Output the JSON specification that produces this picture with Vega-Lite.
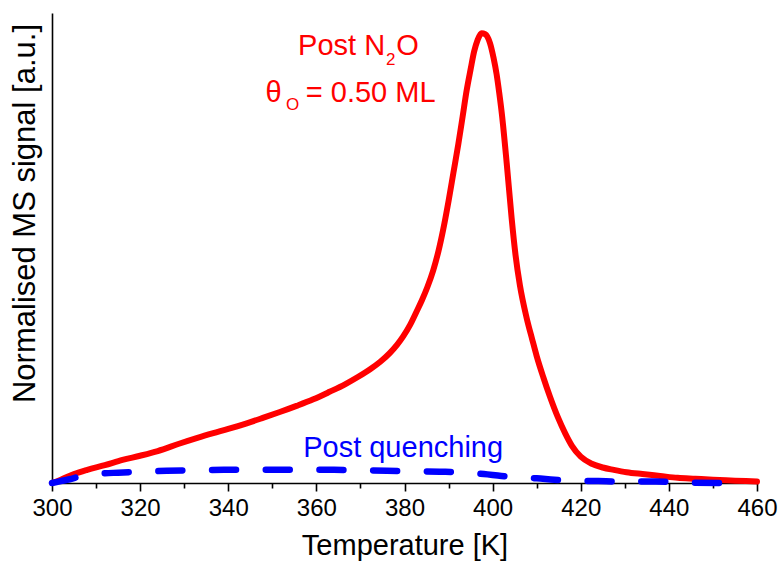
{
  "$schema": "https://vega.github.io/schema/vega-lite/v6.json",
  "width": 705,
  "height": 470,
  "autosize": {"type": "none"},
  "padding": {"left": 52, "top": 13, "right": 21, "bottom": 79},
  "background": "white",
  "config": {
    "view": {"stroke": null},
    "font": "Liberation Sans",
    "axis": {
      "grid": false,
      "domainColor": "black",
      "tickColor": "black",
      "domainWidth": 1.6,
      "tickWidth": 1.6,
      "labelColor": "black",
      "titleColor": "black",
      "labelFont": "Liberation Sans",
      "titleFont": "Liberation Sans",
      "titleFontWeight": "normal"
    }
  },
  "datasets": {
    "red": [
      {"T": 300, "v": 0}, {"T": 302, "v": 0.007}, {"T": 305, "v": 0.019}, {"T": 308, "v": 0.028},
      {"T": 312, "v": 0.038}, {"T": 316, "v": 0.049}, {"T": 320, "v": 0.058}, {"T": 324, "v": 0.068},
      {"T": 329, "v": 0.084}, {"T": 333, "v": 0.096}, {"T": 336.6, "v": 0.106}, {"T": 340, "v": 0.115},
      {"T": 344.2, "v": 0.127}, {"T": 348, "v": 0.139}, {"T": 351.7, "v": 0.151}, {"T": 355.5, "v": 0.164},
      {"T": 359.3, "v": 0.178}, {"T": 363, "v": 0.194}, {"T": 366.5, "v": 0.21}, {"T": 369.5, "v": 0.226},
      {"T": 372.2, "v": 0.242}, {"T": 374.5, "v": 0.258}, {"T": 376.7, "v": 0.277},
      {"T": 378.3, "v": 0.294}, {"T": 379.7, "v": 0.312}, {"T": 381.3, "v": 0.337}, {"T": 382.8, "v": 0.366},
      {"T": 384, "v": 0.39}, {"T": 385.2, "v": 0.417}, {"T": 386.5, "v": 0.452}, {"T": 387.7, "v": 0.493},
      {"T": 388.8, "v": 0.54}, {"T": 390, "v": 0.60}, {"T": 391.1, "v": 0.66}, {"T": 392.2, "v": 0.72},
      {"T": 393.2, "v": 0.78}, {"T": 394.1, "v": 0.835}, {"T": 395, "v": 0.88}, {"T": 395.8, "v": 0.918},
      {"T": 396.6, "v": 0.943}, {"T": 397.5, "v": 0.957}, {"T": 398.3, "v": 0.955}, {"T": 399.4, "v": 0.936},
      {"T": 400.2, "v": 0.905}, {"T": 400.9, "v": 0.87}, {"T": 401.5, "v": 0.83}, {"T": 402.1, "v": 0.785},
      {"T": 403.2, "v": 0.68}, {"T": 404.3, "v": 0.565}, {"T": 405.2, "v": 0.485}, {"T": 406.2, "v": 0.42},
      {"T": 407.7, "v": 0.352}, {"T": 409, "v": 0.305}, {"T": 410, "v": 0.27}, {"T": 411.5, "v": 0.225},
      {"T": 413, "v": 0.184}, {"T": 414.8, "v": 0.14}, {"T": 416.5, "v": 0.105}, {"T": 418, "v": 0.079},
      {"T": 420, "v": 0.056}, {"T": 422.5, "v": 0.041}, {"T": 425, "v": 0.033}, {"T": 427.5, "v": 0.028},
      {"T": 430.4, "v": 0.023}, {"T": 434, "v": 0.019}, {"T": 438, "v": 0.015}, {"T": 442, "v": 0.011},
      {"T": 446, "v": 0.009}, {"T": 450, "v": 0.007}, {"T": 455, "v": 0.005}, {"T": 460, "v": 0.003}
    ],
    "blue": [
      {"T": 300, "v": 0}, {"T": 302, "v": 0.004}, {"T": 304, "v": 0.008}, {"T": 306, "v": 0.013},
      {"T": 308, "v": 0.017}, {"T": 311, "v": 0.020}, {"T": 315, "v": 0.022}, {"T": 320, "v": 0.024},
      {"T": 326, "v": 0.026}, {"T": 332, "v": 0.027}, {"T": 339, "v": 0.028}, {"T": 346, "v": 0.028},
      {"T": 352, "v": 0.028}, {"T": 358, "v": 0.028}, {"T": 364, "v": 0.028}, {"T": 370, "v": 0.027},
      {"T": 376, "v": 0.026}, {"T": 382, "v": 0.025}, {"T": 388, "v": 0.024}, {"T": 394, "v": 0.022},
      {"T": 398, "v": 0.019}, {"T": 402, "v": 0.015}, {"T": 406, "v": 0.012}, {"T": 410, "v": 0.010},
      {"T": 414, "v": 0.007}, {"T": 418, "v": 0.005}, {"T": 424, "v": 0.004}, {"T": 430, "v": 0.003},
      {"T": 437, "v": 0.003}, {"T": 444, "v": 0.001}, {"T": 452, "v": 0.0}
    ],
    "mainRight": [
      {"T": 375.6, "v": 0.911, "label": "Post N", "series": "red"},
      {"T": 352.1, "v": 0.811, "label": "θ", "series": "red"}
    ],
    "mainLeft": [
      {"T": 378.1, "v": 0.911, "label": "O", "series": "red"},
      {"T": 357.6, "v": 0.811, "label": "= 0.50 ML", "series": "red"},
      {"T": 357.0, "v": 0.056, "label": "Post quenching", "series": "blue"}
    ],
    "subs": [
      {"T": 375.8, "v": 0.890, "label": "2", "series": "red"},
      {"T": 353.1, "v": 0.793, "label": "O", "series": "red"}
    ]
  },
  "layer": [
    {
      "data": {"name": "red"},
      "mark": {"type": "line", "color": "#ff0000", "strokeWidth": 6, "interpolate": "monotone", "strokeCap": "round", "strokeJoin": "round"},
      "encoding": {
        "x": {
          "field": "T", "type": "quantitative",
          "scale": {"domain": [300, 460], "nice": false, "zero": false},
          "axis": {
            "orient": "bottom",
            "values": [300, 320, 340, 360, 380, 400, 420, 440, 460],
            "tickSize": 8, "labelFontSize": 24, "labelPadding": 5, "labelFlush": false,
            "title": "Temperature [K]", "titleFontSize": 29, "titlePadding": 11
          }
        },
        "y": {
          "field": "v", "type": "quantitative",
          "scale": {"domain": [0, 1], "nice": false},
          "axis": {
            "ticks": false, "labels": false,
            "title": "Normalised MS signal [a.u.]", "titleFontSize": 31, "titlePadding": 11, "titleY": 200
          }
        }
      }
    },
    {
      "data": {"name": "blue"},
      "mark": {"type": "line", "color": "#0000ff", "strokeWidth": 6.5, "interpolate": "monotone", "strokeDash": [24, 29.7], "strokeCap": "round"},
      "encoding": {
        "x": {
          "field": "T", "type": "quantitative",
          "axis": {
            "orient": "bottom",
            "values": [310, 330, 350, 370, 390, 410, 430, 450],
            "tickSize": 5, "labels": false, "domain": false, "title": null
          }
        },
        "y": {"field": "v", "type": "quantitative"}
      }
    },
    {
      "data": {"name": "mainRight"},
      "mark": {"type": "text", "align": "right", "baseline": "alphabetic", "fontSize": 29, "font": "Liberation Sans"},
      "encoding": {
        "x": {"field": "T", "type": "quantitative", "axis": null},
        "y": {"field": "v", "type": "quantitative"},
        "text": {"field": "label"},
        "color": {"field": "series", "type": "nominal", "scale": {"domain": ["red", "blue"], "range": ["#ff0000", "#0000ff"]}, "legend": null}
      }
    },
    {
      "data": {"name": "mainLeft"},
      "mark": {"type": "text", "align": "left", "baseline": "alphabetic", "fontSize": 29, "font": "Liberation Sans"},
      "encoding": {
        "x": {"field": "T", "type": "quantitative", "axis": null},
        "y": {"field": "v", "type": "quantitative"},
        "text": {"field": "label"},
        "color": {"field": "series", "type": "nominal", "legend": null}
      }
    },
    {
      "data": {"name": "subs"},
      "mark": {"type": "text", "align": "left", "baseline": "alphabetic", "fontSize": 17, "font": "Liberation Sans"},
      "encoding": {
        "x": {"field": "T", "type": "quantitative", "axis": null},
        "y": {"field": "v", "type": "quantitative"},
        "text": {"field": "label"},
        "color": {"field": "series", "type": "nominal", "legend": null}
      }
    }
  ],
  "resolve": {"axis": {"x": "independent"}}
}
